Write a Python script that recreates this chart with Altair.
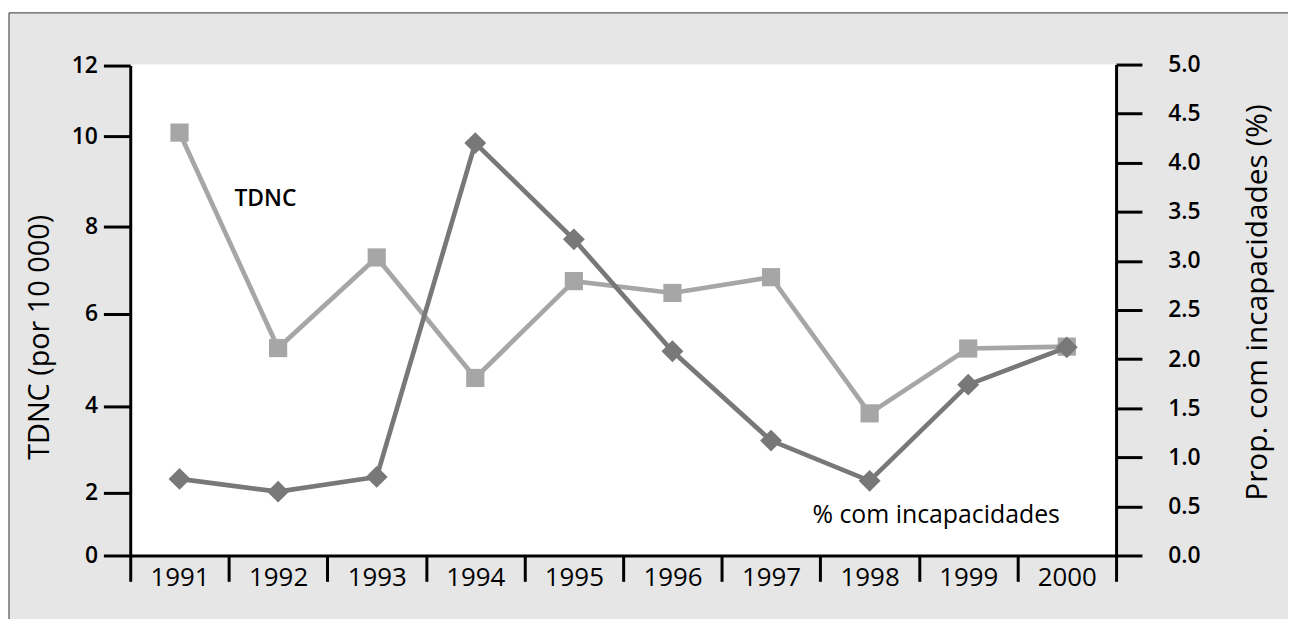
import altair as alt
import pandas as pd

# ---- data ----
years = ["1991", "1992", "1993", "1994", "1995", "1996", "1997", "1998", "1999", "2000"]
tdnc = [10.1, 5.26, 7.29, 4.61, 6.75, 6.48, 6.84, 3.83, 5.25, 5.29]          # TDNC (por 10 000)
incap = [0.78, 0.65, 0.80, 4.20, 3.22, 2.08, 1.17, 0.76, 1.74, 2.12]         # % com incapacidades
left_ticks = [0, 2, 4, 6, 8, 10, 12]
right_ticks = [0.0, 0.5, 1.0, 1.5, 2.0, 2.5, 3.0, 3.5, 4.0, 4.5, 5.0]

df = pd.DataFrame({"year": years, "tdnc": tdnc, "incap": incap})

# ---- layout / style ----
W, H = 992, 494
FONT = "Open Sans"
LIGHT = "#a6a6a6"
DARK = "#787878"
# the reference's left axis is drawn with uneven tick spacing -> piecewise scale
left_range = [494, 430.5, 343.6, 251, 162.8, 72, 1]

x_enc = alt.X(
    "year:O",
    sort=years,
    scale=alt.Scale(type="band", paddingInner=0, paddingOuter=0),
    axis=alt.Axis(
        title=None, tickBand="extent", labelAngle=0, tickSize=26, tickWidth=3,
        tickColor="black", domainColor="black", domainWidth=3,
        labelFont=FONT, labelFontSize=26, labelFontWeight=500, labelColor="black",
        labelBaseline="top", labelPadding=-17, grid=False, zindex=2,
    ),
)

y_left = alt.Y(
    "tdnc:Q",
    scale=alt.Scale(domain=left_ticks, range=left_range, nice=False, zero=False),
    axis=alt.Axis(
        orient="left", values=left_ticks, title="TDNC (por 10 000)",
        tickSize=27, tickWidth=3, tickColor="black", domainColor="black", domainWidth=3,
        labelFont=FONT, labelFontSize=23, labelFontWeight=600, labelColor="black",
        labelPadding=6, grid=False, zindex=2,
        titleFont=FONT, titleFontSize=29, titleFontWeight="normal", titleColor="black",
        titleAngle=270, titleX=-91, titleY=274, titleAlign="center", titleBaseline="middle",
    ),
)

y_right = alt.Y(
    "incap:Q",
    scale=alt.Scale(domain=[0, 5], nice=False),
    axis=alt.Axis(
        orient="right", values=right_ticks, format=".1f",
        title="Prop. com incapacidades (%)",
        tickSize=26, tickWidth=3, tickColor="black", domainColor="black", domainWidth=3,
        labelFont=FONT, labelFontSize=23, labelFontWeight=600, labelColor="black",
        labelPadding=26, grid=False, zindex=2,
        titleFont=FONT, titleFontSize=30, titleFontWeight="normal", titleColor="black",
        titleAngle=270, titleX=142, titleY=239, titleAlign="center", titleBaseline="middle",
    ),
)

one = pd.DataFrame({"a": [0]})

frame = alt.Chart(one).mark_rect(fill="#e6e6e6", stroke="#333333", strokeWidth=1).encode(
    x=alt.value(-122), x2=alt.value(1400), y=alt.value(-52), y2=alt.value(800)
)
plotbg = alt.Chart(one).mark_rect(fill="white").encode(
    x=alt.value(0), x2=alt.value(W), y=alt.value(0), y2=alt.value(H)
)

base = alt.Chart(df)
light_line = base.mark_line(color=LIGHT, strokeWidth=4.7).encode(x=x_enc, y=y_left)
light_pts = base.mark_point(shape="square", filled=True, size=335, color=LIGHT, opacity=1).encode(
    x=x_enc, y=y_left
)
dark_line = base.mark_line(color=DARK, strokeWidth=4.7).encode(x=x_enc, y=y_right)
dark_pts = base.mark_point(shape="diamond", filled=True, size=484, color=DARK, opacity=1).encode(
    x=x_enc, y=y_right
)

left_layer = alt.layer(light_line, light_pts)
right_layer = alt.layer(dark_line, dark_pts)

lab1 = alt.Chart(pd.DataFrame({"t": ["TDNC"]})).mark_text(
    font=FONT, fontSize=23, fontWeight=600, color="black", align="center", baseline="middle"
).encode(text="t:N", x=alt.value(136), y=alt.value(135))
lab2 = alt.Chart(pd.DataFrame({"t": ["% com incapacidades"]})).mark_text(
    font=FONT, fontSize=25, fontWeight=500, color="black", align="center", baseline="middle"
).encode(text="t:N", x=alt.value(811), y=alt.value(453))

chart = (
    alt.layer(frame, plotbg, left_layer, right_layer, lab1, lab2)
    .resolve_scale(y="independent")
    .properties(
        width=W, height=H,
        autosize=alt.AutoSizeParams(type="none"),
        padding={"left": 123, "top": 55, "right": 173, "bottom": 62},
        background="white",
    )
    .configure_view(stroke="transparent")
)

chart.save("out.html", embed_options={"renderer": "svg", "actions": False})
